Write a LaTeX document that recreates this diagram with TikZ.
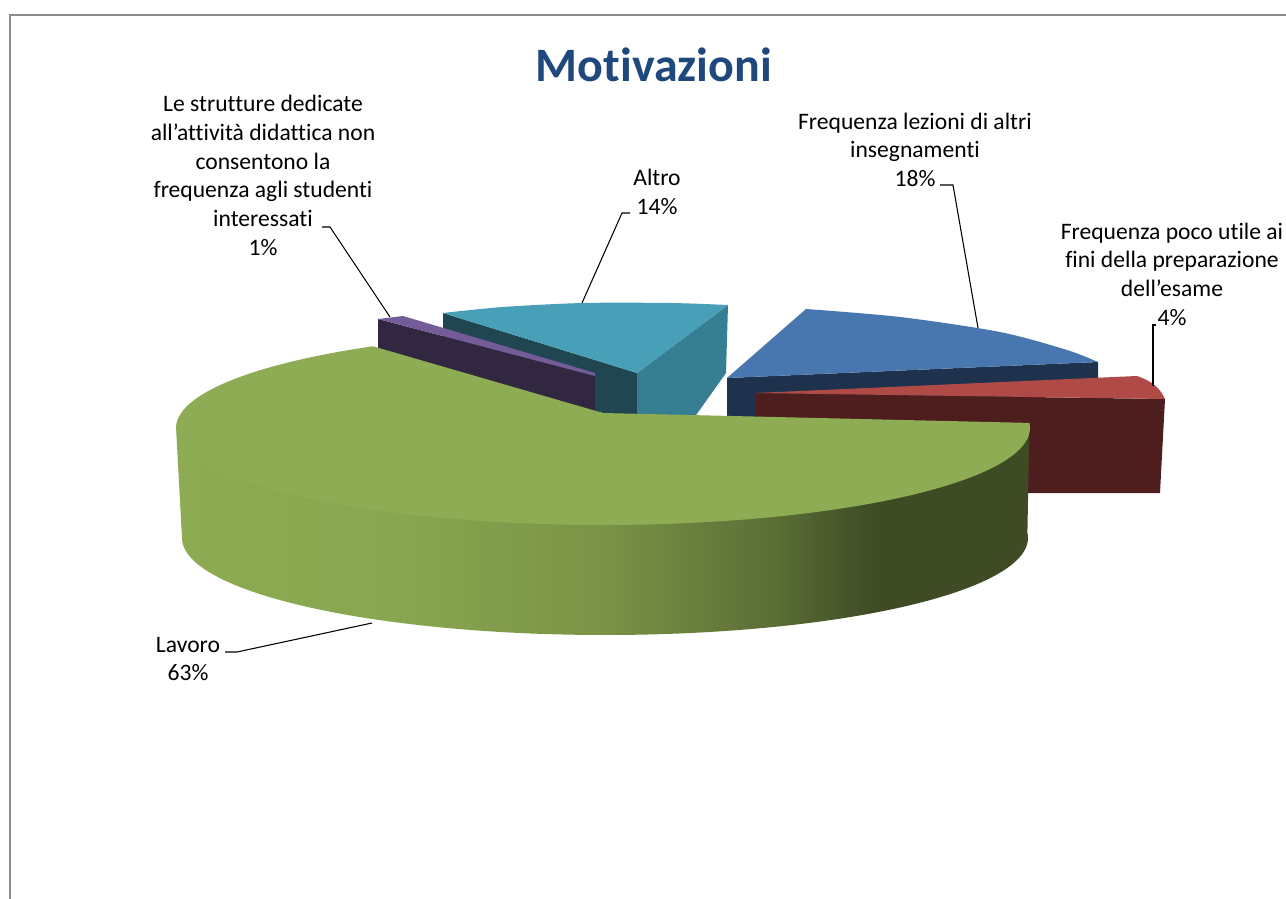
\documentclass[tikz,border=0pt]{standalone}
\usepackage{fontspec}
\setmainfont{Carlito}[Ligatures=NoCommon]
\definecolor{titleblue}{HTML}{1F497D}
\definecolor{framegray}{HTML}{8C8C8C}
\definecolor{tealtop}{HTML}{47A0B8}
\definecolor{tealdark}{HTML}{1F4651}
\definecolor{tealmid}{HTML}{367F93}
\definecolor{purpletop}{HTML}{745C98}
\definecolor{purplewall}{HTML}{312741}
\definecolor{bluetop}{HTML}{4877AF}
\definecolor{bluewall}{HTML}{1E324D}
\definecolor{redtop}{HTML}{AF4A47}
\definecolor{redwall}{HTML}{4E1E1F}
\definecolor{greentop}{HTML}{8EAC53}
\definecolor{gwa}{HTML}{8DAB52}
\definecolor{gwb}{HTML}{88A64F}
\definecolor{gwc}{HTML}{7A9346}
\definecolor{gwd}{HTML}{5A6E35}
\definecolor{gwe}{HTML}{3E4B24}
\pgfdeclarehorizontalshading{greenwall}{100bp}{color(0bp)=(gwa); color(25bp)=(gwa); color(38bp)=(gwb); color(50bp)=(gwc); color(60bp)=(gwd); color(66bp)=(gwe); color(75bp)=(gwe); color(100bp)=(gwe)}
\begin{document}
\begin{tikzpicture}[x=0.75pt,y=-0.75pt,
  lbl/.style={anchor=base, inner sep=0pt, font=\fontsize{17.7}{21.5}\selectfont},
  leader/.style={draw=black, line width=0.8pt},
  frameline/.style={draw=framegray, line width=1.5pt}]
\useasboundingbox (0,0) rectangle (1286,899);
\fill[white] (0,0) rectangle (1286,899);
\draw[frameline] (1295,15) -- (10,15) -- (10,910);

% teal slice (Altro)
\fill[tealdark] (443,313) -- (637,373) -- (637,420) -- (443,380) -- cycle;
\fill[tealmid] (637,373) -- (728,305) -- (726,373) -- (694,418) -- (637,418) -- cycle;
\fill[tealtop] (637,373) -- (443,313) -- plot[smooth] coordinates {(443,313) (503,307) (583,303) (670,303) (728,305)} -- cycle;

% purple slice
\fill[purplewall] (378,319) -- (595,376) -- (595,415) -- (378,355) -- cycle;
\fill[purpletop] (378,319) -- (403,316) -- (595,373) -- (595,376) -- cycle;

% blue slice
\fill[bluewall] (727,378) -- (1098,362) -- (1098,390) -- (727,420) -- cycle;
\fill[bluetop] (727,378) -- (806,309) -- plot[smooth] coordinates {(806,309) (900,317) (1000,332) (1067,350) (1098,362)} -- cycle;

% red slice
\fill[redwall] (755,393) -- (1165,399) -- (1160,493) -- (755,493) -- cycle;
\fill[redtop] (755,393) -- (1137,376) .. controls (1152,381) and (1160,388) .. (1165,399) -- cycle;

% green slice (Lavoro)
\shade[shading=greenwall] plot[domain=-3:180, samples=120] ({603+427*cos(\x)},{427+97*sin(\x)}) -- plot[domain=180:-3, samples=120] ({605+423*cos(\x)},{538+97*sin(\x)}) -- cycle;
\fill[greentop] (603,413) -- plot[domain=-3:237.4, samples=150] ({603+427*cos(\x)},{428+97*sin(\x)}) -- cycle;

% labels
\node[anchor=base, inner sep=0pt, text=titleblue, font=\bfseries\fontsize{36}{43}\selectfont] (title) at (654,82) {Motivazioni};
\node[lbl] (lstrut) at (263,112) {\begin{tabular}[t]{@{}c@{}}Le strutture dedicate\\all’attività didattica non\\consentono la\\frequenza agli studenti\\interessati\\1\%\end{tabular}};
\node[lbl] (lfreq) at (915,129) {\begin{tabular}[t]{@{}c@{}}Frequenza lezioni di altri\\insegnamenti\\18\%\end{tabular}};
\node[lbl] (lpoco) at (1172,239) {\begin{tabular}[t]{@{}c@{}}Frequenza poco utile ai\\fini della preparazione\\dell’esame\\4\%\end{tabular}};
\node[lbl] (laltro) at (657,185.5) {\begin{tabular}[t]{@{}c@{}}Altro\\14\%\end{tabular}};
\node[lbl] (llav) at (188,652) {\begin{tabular}[t]{@{}c@{}}Lavoro\\63\%\end{tabular}};

% leader lines
\coordinate (sa) at (322,227); \coordinate (sb) at (330,227); \coordinate (se) at (390,317);
\coordinate (fa) at (940,185); \coordinate (fb) at (953,185); \coordinate (fe) at (978,328);
\coordinate (pa) at (1156,325); \coordinate (pb) at (1153,325); \coordinate (pe) at (1153,386);
\coordinate (aa) at (630,213); \coordinate (ab) at (622,213); \coordinate (ae) at (582,303);
\coordinate (la) at (225,652); \coordinate (lb) at (237,652); \coordinate (le) at (372,623);
\draw[leader] (sa) -- (sb) -- (se);
\draw[leader] (fa) -- (fb) -- (fe);
\draw[leader] (pa) -- (pb) -- (pe);
\draw[leader] (aa) -- (ab) -- (ae);
\draw[leader] (la) -- (lb) -- (le);
\end{tikzpicture}
\end{document}
